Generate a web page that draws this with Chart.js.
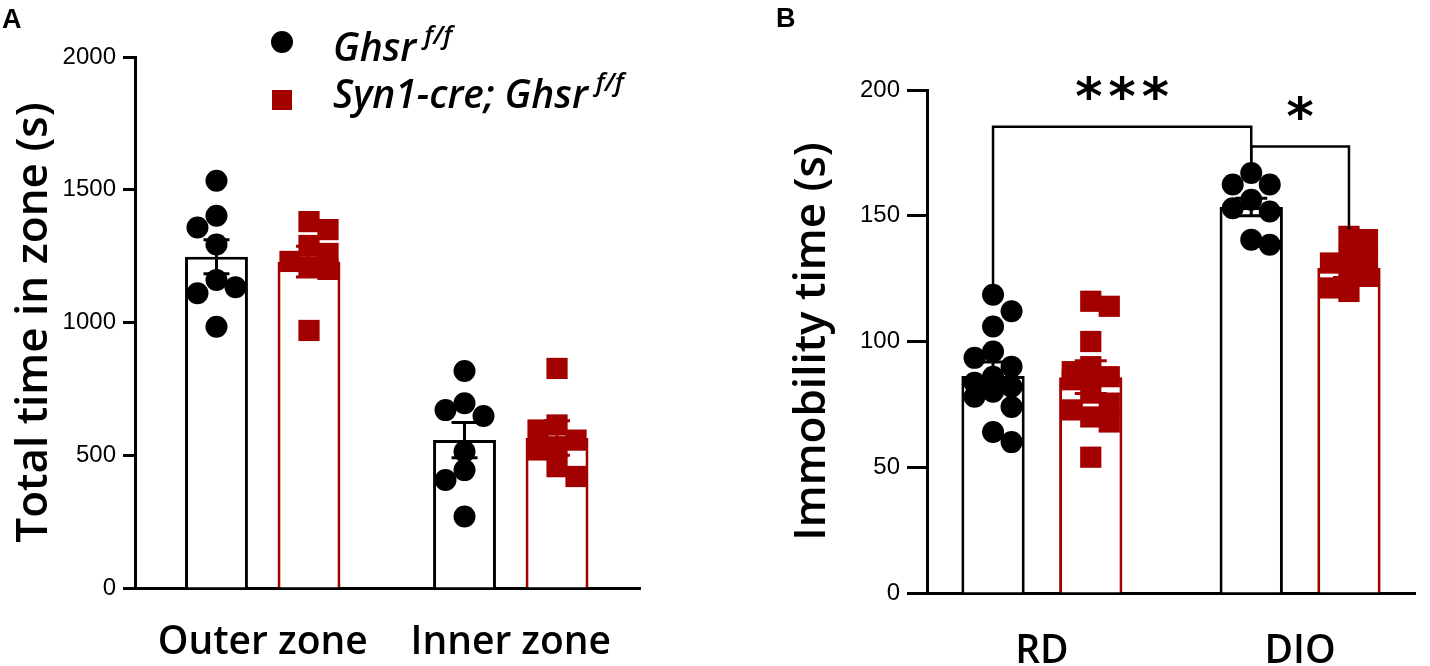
<!DOCTYPE html>
<html><head><meta charset="utf-8">
<script src="https://cdn.jsdelivr.net/npm/chart.js@4.4.1/dist/chart.umd.min.js"></script>
<style>
html,body{margin:0;padding:0;background:#fff;width:1430px;height:666px;overflow:hidden;position:relative}
#ca{position:absolute;left:0;top:0}
#cb{position:absolute;left:700px;top:0}
.panel{position:absolute;font:bold 27px "Liberation Sans",Arial,sans-serif;color:#000;line-height:1}
.leg{position:absolute;font-family:"Open Sans",sans-serif;font-style:italic;font-weight:600;font-size:39px;color:#000;white-space:nowrap;line-height:1}
.leg sup{font-size:26px;vertical-align:0;position:relative;top:-17px;margin-left:8px}
.mk{position:absolute}
</style></head>
<body>
<canvas id="ca" width="700" height="666"></canvas>
<canvas id="cb" width="730" height="666"></canvas>
<div class="panel" style="left:2px;top:6px">A</div>
<div class="panel" style="left:776px;top:5px">B</div>
<div class="mk" style="left:271px;top:31px;width:22px;height:22px;border-radius:50%;background:#000"></div>
<div class="leg" style="left:333px;top:26px">Ghsr<sup>f/f</sup></div>
<div class="mk" style="left:272px;top:90px;width:20px;height:20px;background:#a30000"></div>
<div class="leg" style="left:333px;top:73px">Syn1-cre; Ghsr<sup>f/f</sup></div>
<script>
// ---------- data ----------
const seriesNames = ['Ghsr f/f', 'Syn1-cre; Ghsr f/f'];

// Panel A: open field
const categoriesA = ['Outer zone', 'Inner zone'];
const yTicksA = [0, 500, 1000, 1500, 2000];
const yTitleA = 'Total time in zone (s)';
const ghsrMeanA = [1248, 557];
const ghsrSemA = [64, 66];
const synMeanA = [1229, 565];
const synSemA = [58, 65];
const ghsrOuter = [1534, 1402, 1358, 1294, 1160, 1133, 1110, 984];
const ghsrInner = [817, 696, 670, 648, 514, 444, 407, 269];
const synOuter = [1380, 1350, 1290, 1260, 1230, 1210, 1200, 970];
const synInner = [827, 614, 595, 557, 532, 520, 457, 420];

// Panel B: immobility
const categoriesB = ['RD', 'DIO'];
const yTicksB = [0, 50, 100, 150, 200];
const yTitleB = 'Immobility time (s)';
const ghsrMeanB = [86.3, 153.5];
const ghsrSemB = [5.5, 3.5];
const synMeanB = [85.8, 129.2];
const synSemB = [6.5, 3.8];
const ghsrRD = [118.6, 112, 106, 96, 93.5, 90, 86, 83.6, 82, 80, 78, 74, 64, 60];
const synRD = [116, 114, 100, 90, 88, 86, 86, 84.8, 79.5, 75.5, 72.8, 70, 68, 54];
const ghsrDIO = [167, 162.4, 162.4, 156.4, 153, 151.7, 140.5, 138.5];
const synDIO = [141.8, 140.5, 133.8, 133, 131.2, 127.2, 125.9, 121.3, 119.9];

// significance brackets (panel B): [series, category] -> [series, category]
const bracketFrom = [[0, 0], [0, 1]];
const bracketTo = [[0, 1], [1, 1]];
const bracketLevel = [185.4, 177.5];
const bracketLabel = ['***', '*'];

// ---------- styling ----------
const BLACK = '#000000';
const RED = '#a30000';
const COLORS = [BLACK, RED];
const POINT_STYLE = ['circle', 'rect'];
const POINT_R = [11, 15];

// deterministic beeswarm offsets (pixels -> axis units)
function swarm(values, pxY, pxX, step, minD) {
  const order = values.map((v, i) => i).sort((a, b) => values[b] - values[a]);
  const placed = [];
  const out = new Array(values.length).fill(0);
  order.forEach((i, k) => {
    const y = values[i] * pxY;
    const cands = k % 2 ? [0, step, -step] : [0, -step, step];
    let best = 0, bestD = -1;
    for (const c of cands) {
      let d = Infinity;
      placed.forEach(p => { d = Math.min(d, Math.hypot(p.x - c, p.y - y)); });
      if (d >= minD) { best = c; bestD = d; break; }
      if (d > bestD) { bestD = d; best = c; }
    }
    placed.push({x: best, y});
    out[i] = best / pxX;
  });
  return out;
}

const errorBars = {
  id: 'errorBars',
  afterDatasetsDraw(chart, args, opts) {
    const {ctx, scales: {y}} = chart;
    ctx.save();
    ctx.lineWidth = 3;
    opts.means.forEach((m, s) => {
      const meta = chart.getDatasetMeta(s);
      m.forEach((v, i) => {
        const cx = meta.data[i].x;
        const top = y.getPixelForValue(v + opts.sems[s][i]);
        const bot = y.getPixelForValue(v - opts.sems[s][i]);
        ctx.strokeStyle = COLORS[s];
        ctx.beginPath();
        ctx.moveTo(cx, top); ctx.lineTo(cx, bot);
        ctx.moveTo(cx - opts.cap, top); ctx.lineTo(cx + opts.cap, top);
        ctx.moveTo(cx - opts.cap, bot); ctx.lineTo(cx + opts.cap, bot);
        ctx.stroke();
      });
    });
    ctx.restore();
  }
};

const brackets = {
  id: 'brackets',
  afterDatasetsDraw(chart, args, opts) {
    if (!opts.levels) return;
    const {ctx, scales: {y}} = chart;
    ctx.save();
    ctx.strokeStyle = '#000';
    ctx.lineWidth = 2.5;
    ctx.fillStyle = '#000';
    opts.levels.forEach((lv, k) => {
      const [s1, i1] = opts.from[k];
      const [s2, i2] = opts.to[k];
      const x1 = chart.getDatasetMeta(s1).data[i1].x;
      const x2 = chart.getDatasetMeta(s2).data[i2].x;
      const yL = y.getPixelForValue(lv);
      const y1 = y.getPixelForValue(Math.max(...opts.groups[s1][i1])) - 7;
      const y2 = y.getPixelForValue(Math.max(...opts.groups[s2][i2])) - 7;
      ctx.beginPath();
      ctx.moveTo(x1, y1); ctx.lineTo(x1, yL); ctx.lineTo(x2, yL); ctx.lineTo(x2, y2);
      ctx.stroke();
      ctx.font = 'bold 52px "DejaVu Sans"';
      ctx.textAlign = 'center';
      ctx.textBaseline = 'alphabetic';
      const lab = opts.labels[k];
      const spacing = 6;
      const w = ctx.measureText('*').width + spacing;
      const start = (x1 + x2) / 2 - (w * (lab.length - 1)) / 2;
      for (let c = 0; c < lab.length; c++) {
        ctx.fillText(lab[c], start + c * w, yL - 13);
      }
    });
    ctx.restore();
  }
};

function makePanel(id, p) {
  const off = p.catPct / 4;
  const datasets = [];
  p.means.forEach((m, s) => {
    datasets.push({
      type: 'bar', label: seriesNames[s],
      data: p.cats.map((c, i) => ({x: i, y: m[i]})),
      backgroundColor: '#ffffff', borderColor: COLORS[s], borderWidth: 3,
      categoryPercentage: p.catPct, barPercentage: p.barPct, order: 3
    });
  });
  p.groups.forEach((g, s) => {
    const pts = [];
    g.forEach((vals, i) => {
      const jit = swarm(vals, p.pxY, p.pxX, 19, 18);
      vals.forEach((v, j) => pts.push({x: i + (s ? off : -off) + jit[j], y: v}));
    });
    datasets.push({
      type: 'scatter', label: seriesNames[s], data: pts,
      pointStyle: POINT_STYLE[s], pointRadius: POINT_R[s], pointHoverRadius: POINT_R[s],
      backgroundColor: COLORS[s], borderColor: COLORS[s], borderWidth: 0, order: 1
    });
  });
  return new Chart(document.getElementById(id), {
    type: 'bar',
    data: {datasets},
    plugins: [errorBars, brackets],
    options: {
      responsive: false, animation: false, devicePixelRatio: 1,
      layout: {padding: p.pad},
      plugins: {
        legend: {display: false}, tooltip: {enabled: false},
        errorBars: {means: p.means, sems: p.sems, cap: p.cap},
        brackets: p.brackets || {}
      },
      scales: {
        x: {
          type: 'linear', min: p.xMin, max: p.xMax, offset: false,
          afterBuildTicks: s => { s.ticks = p.cats.map((c, i) => ({value: i})); },
          afterFit: s => { s.height = p.xAxisH; },
          ticks: {
            callback: (v, i) => p.cats[i], autoSkip: false, maxRotation: 0,
            font: {family: 'Open Sans', weight: '600', size: 39}, color: '#000', padding: p.xPad
          },
          grid: {display: true, drawOnChartArea: false, drawTicks: false},
          border: {display: true, width: 3, color: '#000'}
        },
        y: {
          type: 'linear', min: p.yTicks[0], max: p.yTicks[p.yTicks.length - 1],
          afterBuildTicks: s => { s.ticks = p.yTicks.map(v => ({value: v})); },
          afterFit: s => { s.width = p.yAxisW; },
          ticks: {font: {family: 'Liberation Sans', size: 24}, color: '#000', padding: p.yPad,
            callback: v => String(v)},
          grid: {drawOnChartArea: false, drawTicks: true, tickLength: p.tickLen, tickWidth: 3, tickColor: '#000'},
          border: {display: true, width: 3, color: '#000'},
          title: {display: true, text: p.yTitle, color: '#000',
            font: {family: 'Open Sans', weight: '600', size: 44}, padding: {top: 7.6, bottom: 0}}
        }
      }
    }
  });
}

makePanel('ca', {
  cats: categoriesA, yTicks: yTicksA, yTitle: yTitleA,
  means: [ghsrMeanA, synMeanA], sems: [ghsrSemA, synSemA],
  groups: [[ghsrOuter, ghsrInner], [synOuter, synInner]],
  pxY: 531 / 2000, pxX: 248, catPct: 0.746, barPct: 0.68,
  xMin: -0.515, xMax: 1.521,
  pad: {left: 0, top: 57, right: 60, bottom: 0},
  yAxisW: 135, xAxisH: 78, tickLen: 12, yPad: 7, xPad: 31, cap: 13
});

makePanel('cb', {
  cats: categoriesB, yTicks: yTicksB, yTitle: yTitleB,
  means: [ghsrMeanB, synMeanB], sems: [ghsrSemB, synSemB],
  groups: [[ghsrRD, ghsrDIO], [synRD, synDIO]],
  pxY: 503 / 200, pxX: 265, catPct: 0.757, barPct: 0.648,
  xMin: -0.445, xMax: 1.445,
  pad: {left: 78, top: 90, right: 2, bottom: 0},
  yAxisW: 149, xAxisH: 73, tickLen: 20, yPad: 7, xPad: 35, cap: 16,
  brackets: {levels: bracketLevel, from: bracketFrom, to: bracketTo, labels: bracketLabel,
    groups: [[ghsrRD, ghsrDIO], [synRD, synDIO]]}
});
</script>
</body></html>
